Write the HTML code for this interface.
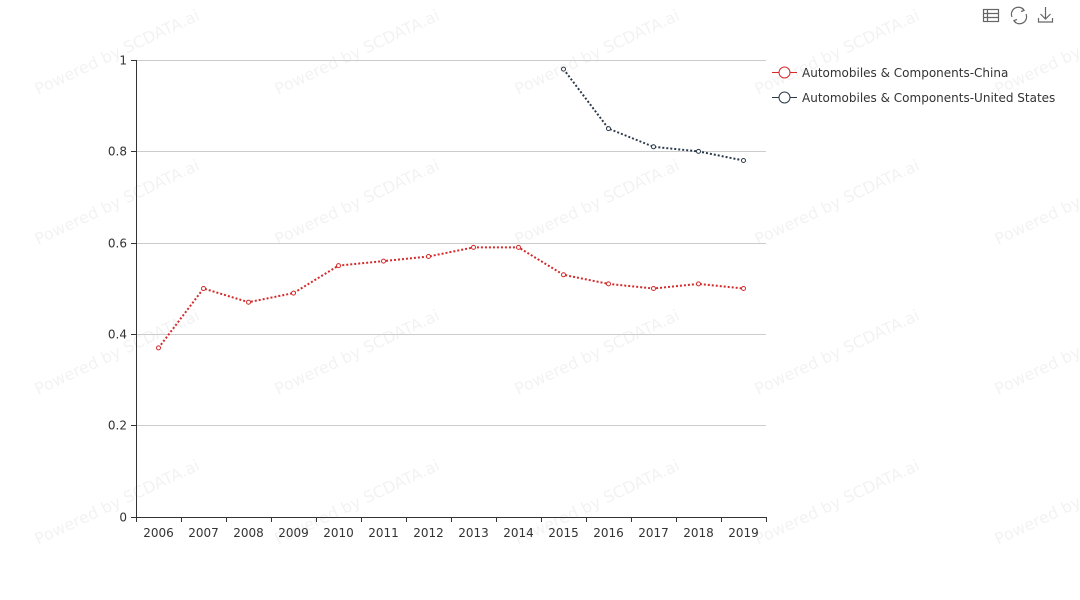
<!DOCTYPE html>
<html><head><meta charset="utf-8"><style>
body{margin:0;background:#fff;}
svg{display:block;font-family:"DejaVu Sans","Liberation Sans",sans-serif;}
</style></head><body>
<svg width="1080" height="600" viewBox="0 0 1080 600" xmlns="http://www.w3.org/2000/svg">
<g fill="#000" fill-opacity="0.05" font-size="16">
<text transform="translate(38,95) rotate(-25)">Powered by SCDATA.ai</text>
<text transform="translate(278,95) rotate(-25)">Powered by SCDATA.ai</text>
<text transform="translate(518,95) rotate(-25)">Powered by SCDATA.ai</text>
<text transform="translate(758,95) rotate(-25)">Powered by SCDATA.ai</text>
<text transform="translate(998,95) rotate(-25)">Powered by SCDATA.ai</text>
<text transform="translate(38,245) rotate(-25)">Powered by SCDATA.ai</text>
<text transform="translate(278,245) rotate(-25)">Powered by SCDATA.ai</text>
<text transform="translate(518,245) rotate(-25)">Powered by SCDATA.ai</text>
<text transform="translate(758,245) rotate(-25)">Powered by SCDATA.ai</text>
<text transform="translate(998,245) rotate(-25)">Powered by SCDATA.ai</text>
<text transform="translate(38,395) rotate(-25)">Powered by SCDATA.ai</text>
<text transform="translate(278,395) rotate(-25)">Powered by SCDATA.ai</text>
<text transform="translate(518,395) rotate(-25)">Powered by SCDATA.ai</text>
<text transform="translate(758,395) rotate(-25)">Powered by SCDATA.ai</text>
<text transform="translate(998,395) rotate(-25)">Powered by SCDATA.ai</text>
<text transform="translate(38,545) rotate(-25)">Powered by SCDATA.ai</text>
<text transform="translate(278,545) rotate(-25)">Powered by SCDATA.ai</text>
<text transform="translate(518,545) rotate(-25)">Powered by SCDATA.ai</text>
<text transform="translate(758,545) rotate(-25)">Powered by SCDATA.ai</text>
<text transform="translate(998,545) rotate(-25)">Powered by SCDATA.ai</text>
</g>
<g stroke="#ccc" stroke-width="1">
<line x1="136" y1="60.5" x2="766" y2="60.5"/>
<line x1="136" y1="151.5" x2="766" y2="151.5"/>
<line x1="136" y1="243.5" x2="766" y2="243.5"/>
<line x1="136" y1="334.5" x2="766" y2="334.5"/>
<line x1="136" y1="425.5" x2="766" y2="425.5"/>
</g>
<g stroke="#333" stroke-width="1">
<line x1="136.5" y1="60" x2="136.5" y2="517"/>
<line x1="136" y1="517.5" x2="766" y2="517.5"/>
<line x1="131" y1="60.5" x2="136" y2="60.5"/>
<line x1="131" y1="151.5" x2="136" y2="151.5"/>
<line x1="131" y1="243.5" x2="136" y2="243.5"/>
<line x1="131" y1="334.5" x2="136" y2="334.5"/>
<line x1="131" y1="425.5" x2="136" y2="425.5"/>
<line x1="131" y1="517.5" x2="136" y2="517.5"/>
<path d="M136.5 517v5M181.5 517v5M226.5 517v5M271.5 517v5M316.5 517v5M361.5 517v5M406.5 517v5M451.5 517v5M496.5 517v5M541.5 517v5M586.5 517v5M631.5 517v5M676.5 517v5M721.5 517v5M766.5 517v5"/>
</g>
<g font-size="12" fill="#333" text-anchor="end">
<text x="127" y="64.5">1</text>
<text x="127" y="155.5">0.8</text>
<text x="127" y="247.5">0.6</text>
<text x="127" y="338.5">0.4</text>
<text x="127" y="429.5">0.2</text>
<text x="127" y="521.5">0</text>
</g>
<g font-size="12" fill="#333" text-anchor="middle">
<text x="158.5" y="537">2006</text><text x="203.5" y="537">2007</text><text x="248.5" y="537">2008</text><text x="293.5" y="537">2009</text><text x="338.5" y="537">2010</text><text x="383.5" y="537">2011</text><text x="428.5" y="537">2012</text><text x="473.5" y="537">2013</text><text x="518.5" y="537">2014</text><text x="563.5" y="537">2015</text><text x="608.5" y="537">2016</text><text x="653.5" y="537">2017</text><text x="698.5" y="537">2018</text><text x="743.5" y="537">2019</text>
</g>
<polyline fill="none" stroke="#d42a2a" stroke-width="2" stroke-dasharray="2,2" points="158.5,347.9 203.5,288.5 248.5,302.2 293.5,293.1 338.5,265.6 383.5,261.1 428.5,256.5 473.5,247.4 518.5,247.4 563.5,274.8 608.5,283.9 653.5,288.5 698.5,283.9 743.5,288.5"/>
<g fill="#fff" stroke="#d42a2a" stroke-width="1">
<circle cx="158.5" cy="347.9" r="2"/><circle cx="203.5" cy="288.5" r="2"/><circle cx="248.5" cy="302.2" r="2"/><circle cx="293.5" cy="293.1" r="2"/><circle cx="338.5" cy="265.6" r="2"/><circle cx="383.5" cy="261.1" r="2"/><circle cx="428.5" cy="256.5" r="2"/><circle cx="473.5" cy="247.4" r="2"/><circle cx="518.5" cy="247.4" r="2"/><circle cx="563.5" cy="274.8" r="2"/><circle cx="608.5" cy="283.9" r="2"/><circle cx="653.5" cy="288.5" r="2"/><circle cx="698.5" cy="283.9" r="2"/><circle cx="743.5" cy="288.5" r="2"/>
</g>
<polyline fill="none" stroke="#2b3a4a" stroke-width="2" stroke-dasharray="2,2" points="563.5,69.1 608.5,128.6 653.5,146.8 698.5,151.4 743.5,160.5"/>
<g fill="#fff" stroke="#2b3a4a" stroke-width="1">
<circle cx="563.5" cy="69.1" r="2"/><circle cx="608.5" cy="128.6" r="2"/><circle cx="653.5" cy="146.8" r="2"/><circle cx="698.5" cy="151.4" r="2"/><circle cx="743.5" cy="160.5" r="2"/>
</g>
<g font-size="12" fill="#333">
<line x1="772" y1="72.5" x2="797" y2="72.5" stroke="#d42a2a"/>
<circle cx="784.5" cy="72.5" r="5.5" fill="#fff" stroke="#d42a2a"/>
<text x="802" y="77">Automobiles &amp; Components-China</text>
<line x1="772" y1="97.5" x2="797" y2="97.5" stroke="#2b3a4a"/>
<circle cx="784.5" cy="97.5" r="5.5" fill="#fff" stroke="#2b3a4a"/>
<text x="802" y="102">Automobiles &amp; Components-United States</text>
</g>
<g fill="none" stroke="#666" stroke-width="1.2">
<rect x="983.5" y="9.5" width="15" height="12"/>
<path d="M983.5 13.5h15M983.5 17.5h15M987.5 9.5v12"/>
<path d="M1012 17a7 7 0 0 1 12-7M1026 14a7 7 0 0 1-12 7"/>
<path d="M1022 8l2 2.5-3 1M1016 23l-2-2.5 3-1"/>
<path d="M1045.5 7v12M1040.5 14l5 5 5-5M1038.5 18v4h14v-4"/>
</g>
</svg>
</body></html>
